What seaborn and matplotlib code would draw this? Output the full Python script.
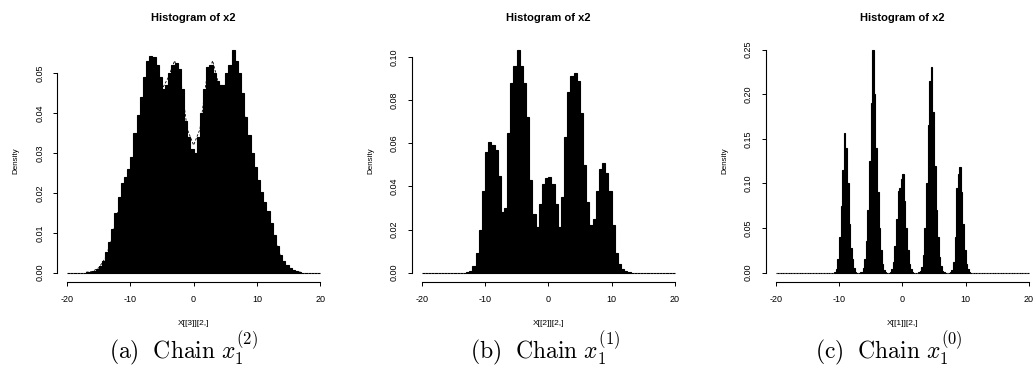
import numpy as np
import pandas as pd
import matplotlib
matplotlib.use("Agg")
import matplotlib.pyplot as plt
import seaborn as sns

# ---------------- data ----------------
# Panel (a): bins of width 0.5 from -20 to 20 (left edges -20 ... 19.5)
a_bin_width = 0.5
a_density = [
    0, 0, 0, 0, 0, 0,                                                            # -20 .. -17.5
    0.0001, 0.0002, 0.0004, 0.0009, 0.0018, 0.0030, 0.0052, 0.0078, 0.0110, 0.0150,  # -17 .. -12.5
    0.0190, 0.0225, 0.0240, 0.0260, 0.0290, 0.0350, 0.0395, 0.0440, 0.0490, 0.0530,  # -12 .. -7.5
    0.0545, 0.0540, 0.0520, 0.0490, 0.0460, 0.0470, 0.0500, 0.0520, 0.0525, 0.0510,  # -7 .. -2.5
    0.0460, 0.0380, 0.0340, 0.0310, 0.0300, 0.0340, 0.0400, 0.0460, 0.0515, 0.0520,  # -2 .. 2.5
    0.0500, 0.0480, 0.0470, 0.0470, 0.0500, 0.0520, 0.0560, 0.0530, 0.0500, 0.0450,  # 3 .. 7.5
    0.0390, 0.0345, 0.0300, 0.0265, 0.0232, 0.0203, 0.0178, 0.0155, 0.0125, 0.0095,  # 8 .. 12.5
    0.0068, 0.0045, 0.0030, 0.0020, 0.0011, 0.0006, 0.0003, 0.0001,                  # 13 .. 16.5
    0, 0, 0, 0, 0, 0,                                                            # 17 .. 19.5
]
# dashed target density drawn over panel (a)
a_curve_x = list(range(-17, 18))
a_curve_y = [0.0001, 0.0003, 0.0012, 0.0035, 0.0080, 0.0150, 0.0200, 0.0240, 0.0320,
             0.0420, 0.0530, 0.0520, 0.0460, 0.0490, 0.0532, 0.0480, 0.0360, 0.0320,
             0.0360, 0.0480, 0.0532, 0.0470, 0.0470, 0.0520, 0.0500, 0.0400, 0.0300,
             0.0230, 0.0180, 0.0130, 0.0075, 0.0030, 0.0010, 0.0003, 0.0001]

# Panel (b): bins of width 0.5
b_bin_width = 0.5
b_density = [
    0, 0, 0, 0, 0, 0, 0, 0, 0, 0, 0, 0, 0, 0,                                  # -20 .. -13.5
    0.0002, 0.0008, 0.0030, 0.0090, 0.0200, 0.0380, 0.0560, 0.0605, 0.0590, 0.0570,  # -13 .. -8.5
    0.0450, 0.0280, 0.0300, 0.0650, 0.0880, 0.0960, 0.1035, 0.0960, 0.0880, 0.0720,  # -8 .. -3.5
    0.0430, 0.0270, 0.0210, 0.0320, 0.0410, 0.0440, 0.0445, 0.0410, 0.0320, 0.0210,  # -3 .. 1.5
    0.0350, 0.0630, 0.0840, 0.0910, 0.0925, 0.0890, 0.0740, 0.0500, 0.0330, 0.0220,  # 2 .. 6.5
    0.0250, 0.0380, 0.0480, 0.0510, 0.0460, 0.0380, 0.0220, 0.0090, 0.0040, 0.0018,  # 7 .. 11.5
    0.0006, 0.0002,                                                              # 12 .. 12.5
    0, 0, 0, 0, 0, 0, 0, 0, 0, 0, 0, 0, 0, 0,                                  # 13 .. 19.5
]

# Panel (c): bins of width 0.25
c_bin_width = 0.25
c_density = [
    0, 0, 0, 0, 0, 0, 0, 0, 0, 0,                                               # -20 .. -17.75
    0, 0, 0, 0, 0, 0, 0, 0, 0, 0,                                               # -17.5 .. -15.25
    0, 0, 0, 0, 0, 0, 0, 0, 0, 0,                                               # -15 .. -12.75
    0, 0, 0, 0, 0, 0, 0,                                                        # -12.5 .. -11
    0.001, 0.004, 0.015, 0.040, 0.075, 0.115, 0.156, 0.140, 0.100, 0.055,
    0.028, 0.015, 0.005, 0.001, 0, 0, 0.0005,                                   # -10.75 .. -6.75
    0.001, 0.005, 0.015, 0.035, 0.070, 0.125, 0.190, 0.250, 0.200, 0.140,
    0.090, 0.050, 0.025, 0.010, 0.003, 0.001, 0, 0,                             # -6.5 .. -2.25
    0.001, 0.004, 0.012, 0.030, 0.060, 0.092, 0.095, 0.105, 0.110, 0.080,
    0.050, 0.025, 0.010, 0.004, 0.001, 0, 0, 0, 0.001,                          # -2 .. 2.5
    0.002, 0.006, 0.020, 0.050, 0.100, 0.165, 0.215, 0.230, 0.180, 0.120,
    0.070, 0.040, 0.018, 0.007, 0.002, 0.001, 0, 0, 0, 0.001,                  # 2.75 .. 7.5
    0.003, 0.012, 0.040, 0.095, 0.110, 0.118, 0.090, 0.055, 0.025, 0.010,
    0.004, 0.001,                                                               # 7.75 .. 10.5
    0, 0, 0, 0, 0, 0, 0, 0, 0, 0,                                               # 10.75 .. 13
    0, 0, 0, 0, 0, 0, 0, 0, 0, 0,                                               # 13.25 .. 15.5
    0, 0, 0, 0, 0, 0, 0, 0, 0, 0,                                               # 15.75 .. 18
    0, 0, 0, 0, 0, 0, 0,                                                        # 18.25 .. 19.75
]

x_range = (-20, 20)
x_ticks = [-20, -10, 0, 10, 20]
x_tick_labels = ["-20", "-10", "0", "10", "20"]

a_yticks = [0.00, 0.01, 0.02, 0.03, 0.04, 0.05]
a_ytick_labels = ["0.00", "0.01", "0.02", "0.03", "0.04", "0.05"]
b_yticks = [0.00, 0.02, 0.04, 0.06, 0.08, 0.10]
b_ytick_labels = ["0.00", "0.02", "0.04", "0.06", "0.08", "0.10"]
c_yticks = [0.00, 0.05, 0.10, 0.15, 0.20, 0.25]
c_ytick_labels = ["0.00", "0.05", "0.10", "0.15", "0.20", "0.25"]

titles = ["Histogram of x2", "Histogram of x2", "Histogram of x2"]
xlabels = ["X[[3]][2,]", "X[[2]][2,]", "X[[1]][2,]"]
ylabel = "Density"
captions = [r"$\mathrm{(a)\ \ Chain}\ x_1^{(2)}$",
            r"$\mathrm{(b)\ \ Chain}\ x_1^{(1)}$",
            r"$\mathrm{(c)\ \ Chain}\ x_1^{(0)}$"]

# ---------------- style ----------------
sns.set_theme(style="white")
plt.rcParams["font.family"] = ["Liberation Sans", "DejaVu Sans"]
plt.rcParams["mathtext.fontset"] = "cm"

W, H = 1036, 389
fig = plt.figure(figsize=(W / 100, H / 100), dpi=100)
fig.patch.set_facecolor("white")

ax_bottom_px, ax_height_px = 281.6, 241.0
panel_left_px = [56.9, 411.6, 765.6]
ax_width_px = 273.4
caption_x_px = [183, 545, 889]

panels = [
    (a_density, a_bin_width, a_yticks, a_ytick_labels),
    (b_density, b_bin_width, b_yticks, b_ytick_labels),
    (c_density, c_bin_width, c_yticks, c_ytick_labels),
]

for i, (dens, bw, yt, ytl) in enumerate(panels):
    n_bins = int(round((x_range[1] - x_range[0]) / bw))
    assert len(dens) == n_bins, (i, len(dens), n_bins)
    centers = [x_range[0] + bw * (k + 0.5) for k in range(n_bins)]
    df = pd.DataFrame({"x": centers, "density": dens})

    ax = fig.add_axes([panel_left_px[i] / W, 1 - ax_bottom_px / H,
                       ax_width_px / W, ax_height_px / H])
    ax.set_facecolor("white")
    sns.histplot(data=df, x="x", weights="density", binwidth=bw,
                 binrange=x_range, stat="count",
                 color="black", edgecolor="black", linewidth=0.8, alpha=1,
                 fill=True, ax=ax)
    if i == 0:
        sns.lineplot(x=a_curve_x, y=a_curve_y, ax=ax, color="black",
                     linewidth=0.6, linestyle=(0, (3, 2)))

    ymax = max(dens)
    ax.set_xlim(x_range[0] - 0.04 * 40, x_range[1] + 0.04 * 40)
    ax.set_ylim(-0.04 * ymax, 1.04 * ymax)

    for s in ["top", "right"]:
        ax.spines[s].set_visible(False)
    for s in ["left", "bottom"]:
        ax.spines[s].set_color("black")
        ax.spines[s].set_linewidth(0.8)
    ax.spines["left"].set_bounds(yt[0], yt[-1])
    ax.spines["bottom"].set_bounds(x_ticks[0], x_ticks[-1])

    ax.set_xticks(x_ticks)
    ax.set_xticklabels(x_tick_labels)
    ax.set_yticks(yt)
    ax.set_yticklabels(ytl, rotation=90, va="center")
    ax.tick_params(axis="both", which="major", bottom=True, left=True,
                   direction="out", length=3, width=0.7, colors="black",
                   labelsize=6.5)
    ax.tick_params(axis="x", pad=6.5)
    ax.tick_params(axis="y", pad=6)
    ax.set_xlabel("")
    ax.set_ylabel("")
    ax.grid(False)

    ax.text(0.5, 1 + (40.9 - 18.7) / ax_height_px, titles[i], transform=ax.transAxes,
            ha="center", va="center", fontsize=8, fontweight="bold", color="black")
    ax.text(-41 / ax_width_px, 0.5, ylabel, transform=ax.transAxes, rotation=90,
            ha="center", va="center", fontsize=5.8, color="black")
    ax.text(0.5, -(323.5 - ax_bottom_px) / ax_height_px,
            xlabels[i], transform=ax.transAxes, ha="center", va="center",
            fontsize=6, color="black")

    fig.text(caption_x_px[i] / W, 1 - 359 / H, captions[i], ha="center",
             va="baseline", fontsize=17, color="black")

fig.savefig("out.png", dpi=100, facecolor="white")
